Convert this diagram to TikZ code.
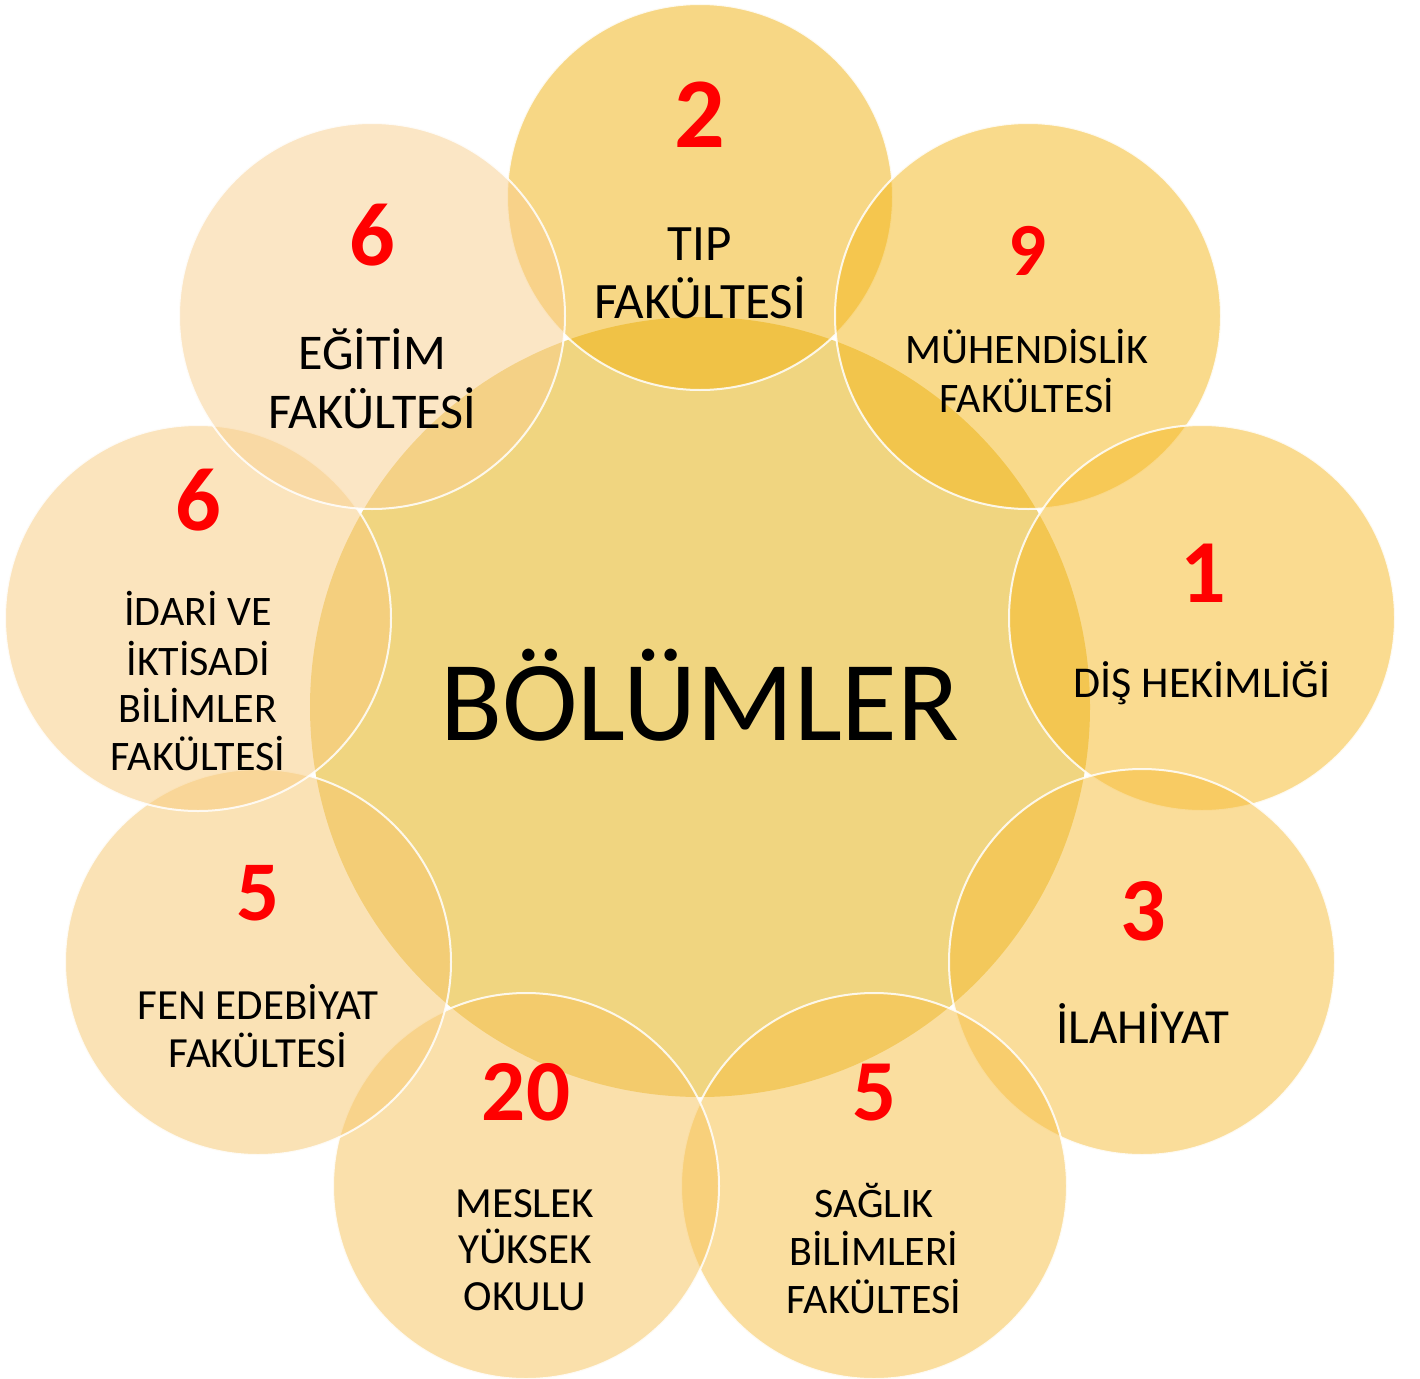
\documentclass[tikz,border=0pt]{standalone}
\usepackage{fontspec}
\setmainfont{Carlito}
\definecolor{numred}{RGB}{255,0,0}
\definecolor{cCenter}{RGB}{240,213,128}
\definecolor{cTip}{RGB}{241,177,13}
\definecolor{cMuh}{RGB}{245,183,25}
\definecolor{cDis}{RGB}{247,185,35}
\definecolor{cIlah}{RGB}{247,189,55}
\definecolor{cSag}{RGB}{247,191,65}
\definecolor{cMes}{RGB}{247,195,89}
\definecolor{cFen}{RGB}{247,199,109}
\definecolor{cIda}{RGB}{249,203,125}
\definecolor{cEgi}{RGB}{249,207,141}
\begin{document}
\begin{tikzpicture}[x=1pt,y=-1pt,
  ring/.style={circle, inner sep=0pt, minimum size=386pt, draw=white, line width=2pt,
               fill=#1, fill opacity=0.5, draw opacity=0.85},
  hub/.style={circle, inner sep=0pt, minimum size=780pt, fill=cCenter},
  num/.style={anchor=base, inner sep=0pt, text=numred, font=\bfseries\fontsize{#1}{#1}\selectfont},
  lbl/.style={anchor=base, inner sep=0pt, text=black, font=\fontsize{#1}{#1}\selectfont}]
\useasboundingbox (0,0) rectangle (1420,1378);
\fill[white] (0,0) rectangle (1420,1378);
% circles
\node[hub] (hub) at (700,707) {};
\node[ring=cTip]  (tip) at (700,197) {};
\node[ring=cMuh]  (muh) at (1028,316) {};
\node[ring=cDis]  (dis) at (1202,618) {};
\node[ring=cIlah] (ila) at (1142,962) {};
\node[ring=cSag]  (sag) at (874,1186) {};
\node[ring=cMes]  (mes) at (526,1186) {};
\node[ring=cFen]  (fen) at (258,962) {};
\node[ring=cIda]  (ida) at (198,618) {};
\node[ring=cEgi]  (egi) at (372,316) {};
% centre text
\node[lbl=114] (title) at (700,740) {BÖLÜMLER};
% TIP
\node[num=100] (ntip) at (700,147) {2};
\node[lbl=51] (tipa) at (700,260) {TIP};
\node[lbl=51] (tipb) at (700,318) {FAKÜLTESİ};
% MUHENDISLIK
\node[num=75] (nmuh) at (1027,275) {9};
\node[lbl=42] (muha) at (1027,363) {MÜHENDİSLİK};
\node[lbl=42] (muhb) at (1027,412) {FAKÜLTESİ};
% DIS
\node[num=90] (ndis) at (1203,602) {1};
\node[lbl=44] (disa) at (1202,697) {DİŞ HEKİMLİĞİ};
% ILAHIYAT
\node[num=90] (nila) at (1143,940) {3};
\node[lbl=49] (ilaa) at (1143,1043) {İLAHİYAT};
% SAGLIK
\node[num=87] (nsag) at (875,1120) {5};
\node[lbl=42] (saga) at (874,1217) {SAĞLIK};
\node[lbl=42] (sagb) at (874,1265) {BİLİMLERİ};
\node[lbl=42] (sagc) at (874,1313) {FAKÜLTESİ};
% MESLEK
\node[num=87] (nmes) at (526,1120) {20};
\node[lbl=43] (mesa) at (525,1217) {MESLEK};
\node[lbl=43] (mesb) at (525,1263) {YÜKSEK};
\node[lbl=43] (mesc) at (525,1310) {OKULU};
% FEN
\node[num=85] (nfen) at (258,920) {5};
\node[lbl=43] (fena) at (258,1019) {FEN EDEBİYAT};
\node[lbl=43] (fenb) at (258,1067) {FAKÜLTESİ};
% IDARI
\node[num=90] (nida) at (198,530) {6};
\node[lbl=42] (idaa) at (198,625) {İDARİ VE};
\node[lbl=42] (idab) at (198,675) {İKTİSADİ};
\node[lbl=42] (idac) at (198,722) {BİLİMLER};
\node[lbl=42] (idad) at (198,770) {FAKÜLTESİ};
% EGITIM
\node[num=90] (negi) at (372,265) {6};
\node[lbl=50] (egia) at (372,369) {EĞİTİM};
\node[lbl=50] (egib) at (372,428) {FAKÜLTESİ};
\end{tikzpicture}
\end{document}
